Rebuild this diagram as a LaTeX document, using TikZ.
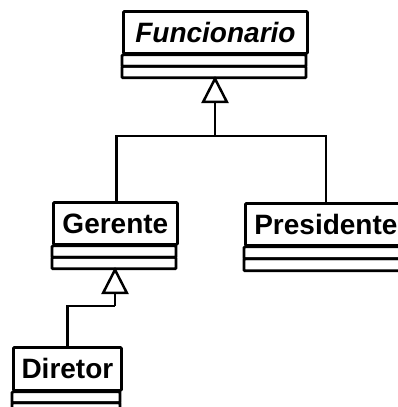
\documentclass[tikz,border=0pt]{standalone}
\usepackage{fontspec}
\setmainfont{Liberation Sans}
\usetikzlibrary{arrows.meta,calc}
\begin{document}
\begin{tikzpicture}[x=1pt,y=1pt,
  lw/.style={line width=2.8pt},
  classhead/.style={draw, lw, anchor=north west, inner sep=0pt, minimum height=42pt,
    font=\fontsize{28}{30}\selectfont\bfseries, rounded corners=1pt},
  comp/.style={draw, lw, rounded corners=1pt},
  conn/.style={draw, lw},
  gen/.style={conn, -{Triangle[open, length=27pt, width=27pt, line width=2.5pt]}}
]
\useasboundingbox (0,0) rectangle (398,-407);
\clip (0,0) rectangle (398,-407);
% Funcionario
\node[classhead, minimum width=184pt] (f) at (122,-10) {\itshape Funcionario};
\path[comp] (f.south west) rectangle ++(184,-11.5);
\path[comp] ($(f.south west)+(0,-11.5)$) rectangle ++(184,-11.5);
% Gerente
\node[classhead, minimum width=124pt] (g) at (52,-201) {Gerente};
\path[comp] (g.south west) rectangle ++(124,-11.5);
\path[comp] ($(g.south west)+(0,-11.5)$) rectangle ++(124,-11.5);
% Presidente
\node[classhead, minimum width=161pt] (p) at (244,-202) {Presidente};
\path[comp] (p.south west) rectangle ++(161,-12);
\path[comp] ($(p.south west)+(0,-12)$) rectangle ++(161,-12);
% Diretor
\node[classhead, minimum width=108pt, minimum height=43pt] (d) at (12,-346) {Diretor};
\path[comp] (d.south west) rectangle ++(108,-11);
\path[comp] ($(d.south west)+(0,-11)$) rectangle ++(108,-12);
% connectors
\coordinate (j) at (215,-136);
\coordinate (f-tip) at (215,-76);
\draw[conn] ($(g.north)+(1,0)$) |- (j) -| (p.north);
\draw[gen] (j) -- (f-tip);
\coordinate (k) at (115,-306);
\coordinate (g-tip) at (115,-267);
\draw[conn] (d.north) |- (k);
\draw[gen] (k) -- (g-tip);
\end{tikzpicture}
\end{document}
